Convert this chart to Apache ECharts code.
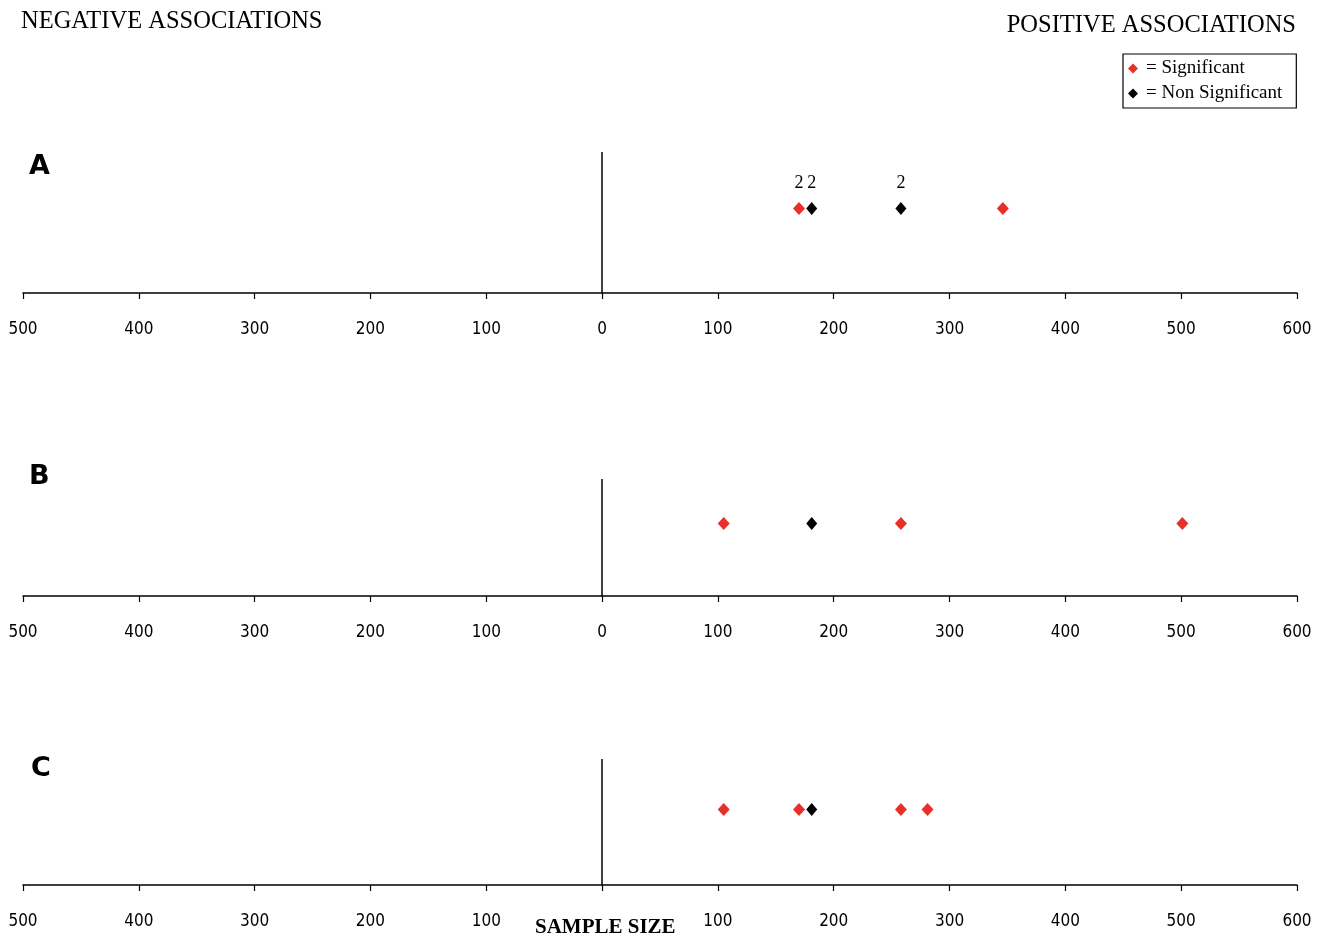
<!DOCTYPE html>
<html>
<head>
<meta charset="utf-8">
<script src="https://cdn.jsdelivr.net/npm/echarts@6/dist/echarts.min.js"></script>
<style>html,body{margin:0;padding:0;background:#fff}#chart{width:1326px;height:937px}</style>
</head>
<body>
<div id="chart"></div>
<script>
// Data (sample sizes; negative = negative association)
const xTicks = [-500, -400, -300, -200, -100, 0, 100, 200, 300, 400, 500, 600];
const panelNames = ['A', 'B', 'C'];
const sigA = [170, 346];
const nonA = [181, 258];
const sigB = [105, 258, 501];
const nonB = [181];
const sigC = [105, 170, 258, 281];
const nonC = [181];
// number of studies shown above a point (only where annotated)
const countsSigA = ['2', ''];
const countsNonA = ['2', '2'];
const rowLevel = [0.6, 0.62, 0.6];

const RED = '#e8302a';
const BLACK = '#000000';
const SIG = '= Significant';
const NON = '= Non Significant';

const grids = [
  {left: 23, right: 29, top: 152, height: 141},
  {left: 23, right: 29, top: 479, height: 117},
  {left: 23, right: 29, top: 759, height: 126}
];

const xAxes = grids.map((g, i) => ({
  type: 'value', gridIndex: i, min: xTicks[0], max: xTicks[xTicks.length - 1], interval: 100,
  axisLine: {onZero: false, lineStyle: {color: '#000', width: 1.5}},
  axisTick: {show: true, inside: false, length: 6, lineStyle: {color: '#000', width: 1.2}},
  splitLine: {show: false},
  axisLabel: {margin: 28, color: '#000', fontSize: 17, fontFamily: 'DejaVu Sans Condensed, DejaVu Sans, sans-serif',
    formatter: v => (i === 2 && v === 0) ? '' : String(Math.abs(v))}
}));
const yAxes = grids.map((g, i) => ({
  type: 'value', gridIndex: i, min: 0, max: 1, show: false
}));

function pts(arr, lvl, counts) {
  return arr.map((v, k) => ({value: [v, lvl], label: {formatter: counts ? counts[k] : ''}}));
}
const sigData = [pts(sigA, rowLevel[0], countsSigA), pts(sigB, rowLevel[1]), pts(sigC, rowLevel[2])];
const nonData = [pts(nonA, rowLevel[0], countsNonA), pts(nonB, rowLevel[1]), pts(nonC, rowLevel[2])];

const series = [];
for (let i = 0; i < 3; i++) {
  const lbl = {show: true, position: 'top', distance: 10, color: '#000', fontSize: 18,
    fontFamily: 'Liberation Serif, serif'};
  series.push({
    name: SIG, type: 'scatter', xAxisIndex: i, yAxisIndex: i, symbol: 'diamond', symbolSize: [12, 13],
    itemStyle: {color: RED, opacity: 1}, data: sigData[i], label: lbl, z: 3,
    markLine: {silent: true, symbol: 'none', label: {show: false},
      lineStyle: {color: '#000', width: 1.5, type: 'solid'}, data: [{xAxis: 0}]}
  });
  series.push({
    name: NON, type: 'scatter', xAxisIndex: i, yAxisIndex: i, symbol: 'diamond', symbolSize: [11, 13],
    itemStyle: {color: BLACK, opacity: 1}, data: nonData[i], label: lbl, z: 4
  });
}

const titleFont = {fontFamily: 'Liberation Serif, serif', fontSize: 24.5, fontWeight: 'normal', color: '#000'};
const letterFont = {fontFamily: 'DejaVu Sans, sans-serif', fontSize: 27, fontWeight: 'bold', color: '#000'};
const chart = echarts.init(document.getElementById('chart'), null, {renderer: 'canvas'});
chart.setOption({
  animation: false,
  backgroundColor: '#fff',
  title: [
    {text: 'NEGATIVE ASSOCIATIONS', left: 21, top: 9, padding: 0, textStyle: titleFont},
    {text: 'POSITIVE ASSOCIATIONS', right: 30, top: 13, padding: 0, textStyle: titleFont},
    {text: panelNames[0], left: 29, top: 153, padding: 0, textStyle: letterFont},
    {text: panelNames[1], left: 29, top: 463, padding: 0, textStyle: letterFont},
    {text: panelNames[2], left: 31, top: 755, padding: 0, textStyle: letterFont},
    {text: 'SAMPLE SIZE', left: 535, top: 917, padding: 0,
      textStyle: {fontFamily: 'Liberation Serif, serif', fontSize: 21, fontWeight: 'bold', color: '#000'}}
  ],
  legend: {
    data: [SIG, NON], orient: 'vertical', left: 1123, top: 54,
    icon: 'diamond', itemWidth: 10, itemHeight: 10, itemGap: 6,
    padding: [5, 14, 5, 5], borderColor: '#000', borderWidth: 1.2, borderRadius: 0,
    textStyle: {fontFamily: 'Liberation Serif, serif', fontSize: 19, color: '#000', padding: [0, 0, 0, 3]},
    selectedMode: false
  },
  grid: grids,
  xAxis: xAxes,
  yAxis: yAxes,
  series: series
});
</script>
</body>
</html>
